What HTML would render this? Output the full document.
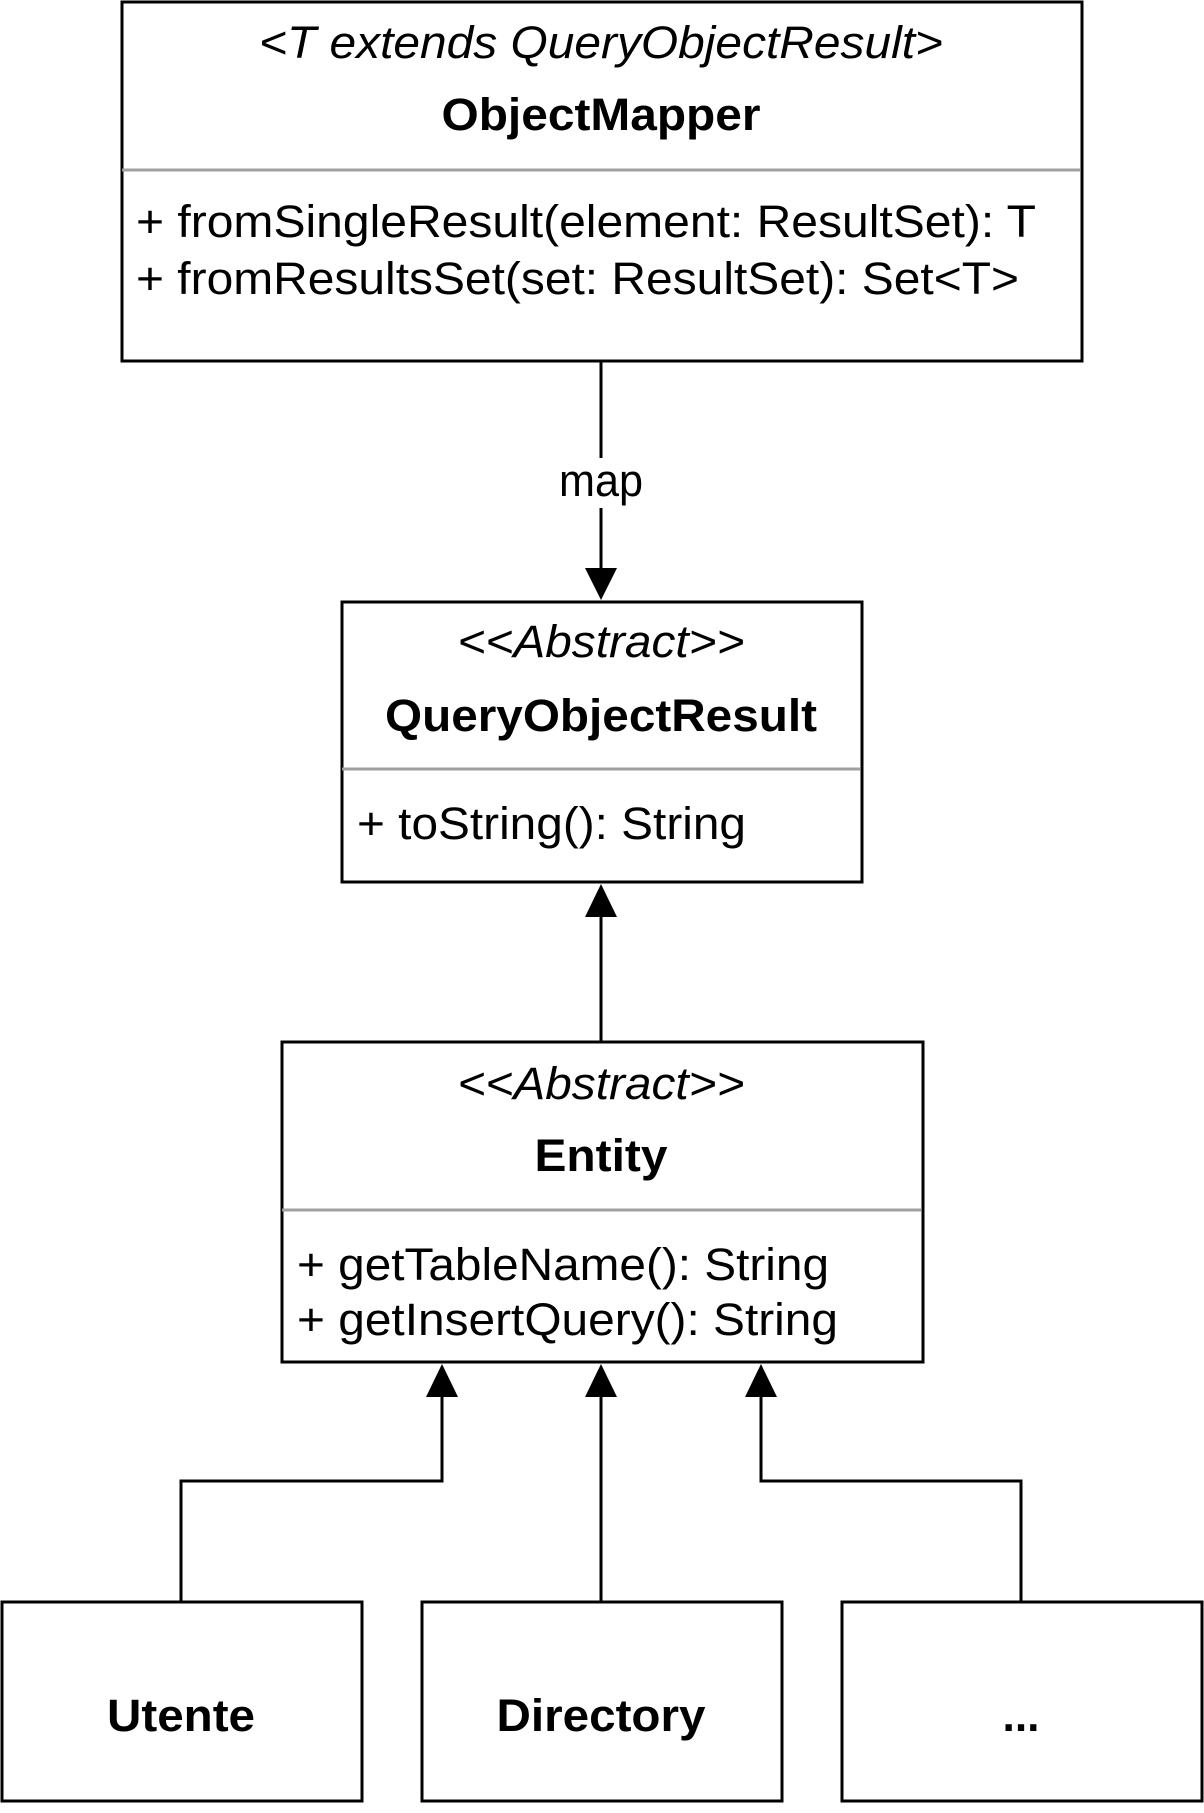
<!DOCTYPE html>
<html><head><meta charset="utf-8"><style>
html,body{margin:0;padding:0;background:#fff}
text{font-family:"Liberation Sans",Arial,sans-serif;fill:#000}
</style></head><body>
<svg width="1204" height="1808" viewBox="0 0 1204 1808" xmlns="http://www.w3.org/2000/svg">
<g fill="none" stroke="#000" stroke-width="3">
<rect x="122" y="2" width="960" height="359"/>
<rect x="342" y="602" width="520" height="280"/>
<rect x="282" y="1042" width="641" height="320"/>
<rect x="2" y="1602" width="360" height="199"/>
<rect x="422" y="1602" width="360" height="199"/>
<rect x="842" y="1602" width="360" height="199"/>
<line x1="601" y1="361" x2="601" y2="458"/>
<line x1="601" y1="508" x2="601" y2="570"/>
<line x1="601" y1="917" x2="601" y2="1041"/>
<line x1="601" y1="1397" x2="601" y2="1601"/>
<polyline points="181,1601 181,1481 442,1481 442,1397"/>
<polyline points="1021,1601 1021,1481 761,1481 761,1397"/>
</g>
<g stroke="#a0a0a0" stroke-width="3">
<line x1="122" y1="170" x2="1080" y2="170"/>
<line x1="342" y1="769" x2="860" y2="769"/>
<line x1="282" y1="1210" x2="921" y2="1210"/>
</g>
<g fill="#000">
<polygon points="585,568 617,568 601,600"/>
<polygon points="585,917 617,917 601,884"/>
<polygon points="426,1397 458,1397 442,1364"/>
<polygon points="585,1397 617,1397 601,1364"/>
<polygon points="745,1397 777,1397 761,1364"/>
</g>
<g font-size="45">
<text x="601" y="58" text-anchor="middle" font-style="italic" textLength="684" lengthAdjust="spacingAndGlyphs">&lt;T extends QueryObjectResult&gt;</text>
<text x="601" y="130" text-anchor="middle" font-weight="bold" textLength="319" lengthAdjust="spacingAndGlyphs">ObjectMapper</text>
<text x="136" y="237" textLength="900" lengthAdjust="spacingAndGlyphs">+ fromSingleResult(element: ResultSet): T</text>
<text x="136" y="294" textLength="883" lengthAdjust="spacingAndGlyphs">+ fromResultsSet(set: ResultSet): Set&lt;T&gt;</text>
<text x="601" y="496" text-anchor="middle" textLength="84" lengthAdjust="spacingAndGlyphs">map</text>
<text x="601" y="657" text-anchor="middle" font-style="italic" textLength="287" lengthAdjust="spacingAndGlyphs">&lt;&lt;Abstract&gt;&gt;</text>
<text x="601" y="731" text-anchor="middle" font-weight="bold" textLength="432" lengthAdjust="spacingAndGlyphs">QueryObjectResult</text>
<text x="357" y="839" textLength="389" lengthAdjust="spacingAndGlyphs">+ toString(): String</text>
<text x="601" y="1099" text-anchor="middle" font-style="italic" textLength="287" lengthAdjust="spacingAndGlyphs">&lt;&lt;Abstract&gt;&gt;</text>
<text x="601" y="1171" text-anchor="middle" font-weight="bold" textLength="133" lengthAdjust="spacingAndGlyphs">Entity</text>
<text x="297" y="1280" textLength="532" lengthAdjust="spacingAndGlyphs">+ getTableName(): String</text>
<text x="297" y="1335" textLength="541" lengthAdjust="spacingAndGlyphs">+ getInsertQuery(): String</text>
<text x="181" y="1731" text-anchor="middle" font-weight="bold" textLength="148" lengthAdjust="spacingAndGlyphs">Utente</text>
<text x="601" y="1731" text-anchor="middle" font-weight="bold" textLength="209" lengthAdjust="spacingAndGlyphs">Directory</text>
<text x="1021" y="1731" text-anchor="middle" font-weight="bold" textLength="37" lengthAdjust="spacingAndGlyphs">...</text>
</g>
</svg>
</body></html>
